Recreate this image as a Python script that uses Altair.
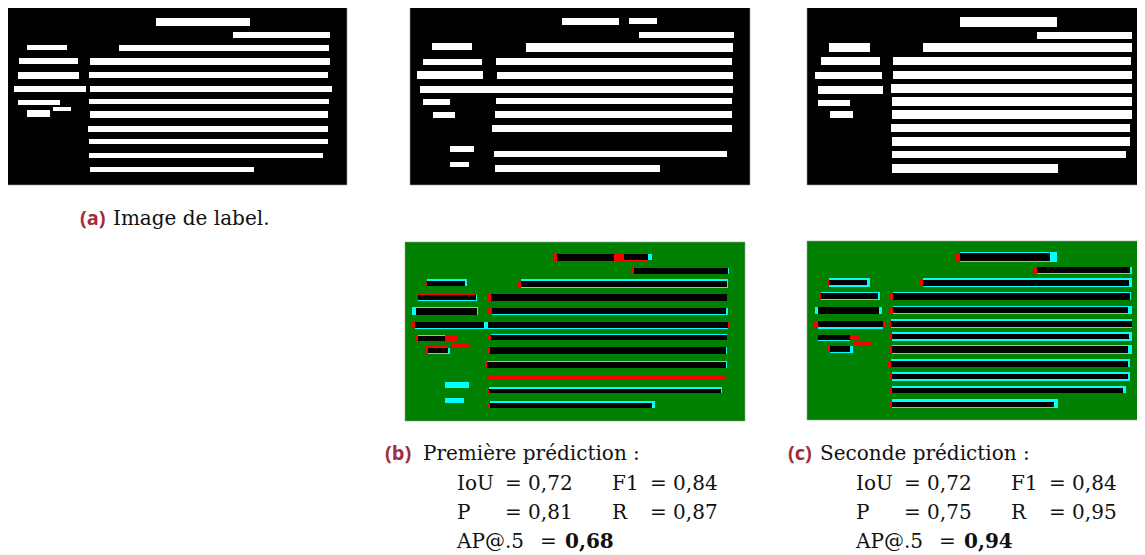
import altair as alt
import pandas as pd

# ---------------- data: bars in image coordinates (x1, x2, y1, y2), image ~340 x 179 ----------------
LABEL_BARS = [
    (149, 243, 12, 20), (226, 323, 26, 32),
    (20, 60, 39, 44), (112, 322, 39, 45),
    (12, 71, 52, 58), (83, 323, 52, 59),
    (11, 72, 66, 73), (82, 321, 66, 72),
    (7, 79, 80, 86), (83, 325, 80, 86),
    (11, 53, 94, 99), (46, 64, 101, 105), (82, 322, 93, 98),
    (20, 43, 104, 111), (83, 321, 105, 112),
    (81, 321, 120, 126),
    (82, 321, 133, 138),
    (82, 316, 147, 152),
    (83, 247, 161, 166),
]
PRED1_BARS = [
    (152, 209, 12, 19), (219, 247, 12, 18),
    (229, 324, 26, 32),
    (22, 62, 37, 44), (116, 323, 37, 46),
    (13, 72, 53, 59), (86, 322, 52, 59),
    (7, 73, 65, 73), (87, 323, 66, 73),
    (10, 323, 80, 87),
    (13, 40, 93, 99), (86, 322, 92, 98),
    (23, 45, 106, 112), (85, 322, 105, 112),
    (82, 322, 119, 126),
    (40, 64, 140, 146),
    (84, 317, 145, 151),
    (40, 59, 156, 161), (85, 250, 159, 166),
]
PRED2_BARS = [
    (153, 250, 11, 21),
    (230, 325, 26, 33),
    (22, 63, 37, 46), (116, 325, 37, 46),
    (14, 73, 51, 59), (86, 324, 51, 59),
    (8, 75, 66, 73), (86, 325, 65, 73),
    (11, 76, 80, 88), (84, 325, 78, 87),
    (11, 43, 94, 100), (85, 325, 91, 100),
    (23, 46, 105, 112), (85, 325, 104, 113),
    (84, 323, 118, 126),
    (85, 323, 131, 140),
    (85, 319, 145, 152),
    (85, 251, 158, 167),
]

CAPTION_TAGS = ["(a)", "(b)", "(c)"]
CAPTION_TITLES = ["Image de label.", "Première prédiction :", "Seconde prédiction :"]
IOU = [0.72, 0.72]
F1 = [0.84, 0.84]
PREC = [0.81, 0.75]
REC = [0.87, 0.95]
AP50 = [0.68, 0.94]

# ---------------- layout ----------------
IMG_W, IMG_H = 340, 179
PANELS = {
    "label": (7, 6),
    "pred1": (410, 6),
    "pred2": (807, 6),
    "cmp1": (405, 242),
    "cmp2": (807, 241),
}
BLACK, WHITE, GREEN, RED, CYAN = "#000000", "#ffffff", "#008000", "#ff0000", "#00ffff"
TAG_COLOR = "#a32c3c"
SERIF = "DejaVu Serif"
FS = 20

X = alt.Scale(domain=[8, 1137], nice=False, zero=False)
Y = alt.Scale(domain=[8, 555], nice=False, zero=False, reverse=True)


def place(bars, panel, color):
    ox, oy = PANELS[panel]
    return [dict(x=ox + a, x2=ox + b, y=oy + c, y2=oy + d, color=color) for a, b, c, d in bars]


def intersect(la, lb):
    out = []
    for a in la:
        for b in lb:
            x1, x2 = max(a[0], b[0]), min(a[1], b[1])
            y1, y2 = max(a[2], b[2]), min(a[3], b[3])
            if x2 > x1 and y2 > y1:
                out.append((x1, x2, y1, y2))
    return out


full = [(0, IMG_W, 0, IMG_H)]
backgrounds = (place(full, "label", BLACK) + place(full, "pred1", BLACK) + place(full, "pred2", BLACK)
               + place(full, "cmp1", GREEN) + place(full, "cmp2", GREEN))
whites = place(LABEL_BARS, "label", WHITE) + place(PRED1_BARS, "pred1", WHITE) + place(PRED2_BARS, "pred2", WHITE)
reds = place(LABEL_BARS, "cmp1", RED) + place(LABEL_BARS, "cmp2", RED)
cyans = place(PRED1_BARS, "cmp1", CYAN) + place(PRED2_BARS, "cmp2", CYAN)
blacks = place(intersect(LABEL_BARS, PRED1_BARS), "cmp1", BLACK) + place(intersect(LABEL_BARS, PRED2_BARS), "cmp2", BLACK)


def rect_layer(rows, **mk):
    return alt.Chart(pd.DataFrame(rows)).mark_rect(**mk).encode(
        x=alt.X("x:Q", scale=X, axis=None),
        x2="x2:Q",
        y=alt.Y("y:Q", scale=Y, axis=None),
        y2="y2:Q",
        color=alt.Color("color:N", scale=None),
    )


def fmt(v):
    return f"{v:.2f}".replace(".", ",")


# text rows
tag_rows = [
    dict(x=80, y=225, t=CAPTION_TAGS[0]),
    dict(x=385, y=460, t=CAPTION_TAGS[1]),
    dict(x=788, y=460, t=CAPTION_TAGS[2]),
]
normal_rows = [
    dict(x=113, y=225, t=CAPTION_TITLES[0]),
    dict(x=423, y=460, t=CAPTION_TITLES[1]),
    dict(x=820, y=460, t=CAPTION_TITLES[2]),
]
bold_rows = []
for i, dx in enumerate([0, 399]):
    normal_rows += [
        dict(x=457 + dx, y=490, t="IoU"),
        dict(x=505 + dx, y=490, t="= " + fmt(IOU[i])),
        dict(x=612 + dx, y=490, t="F1"),
        dict(x=650 + dx, y=490, t="= " + fmt(F1[i])),
        dict(x=457 + dx, y=519, t="P"),
        dict(x=505 + dx, y=519, t="= " + fmt(PREC[i])),
        dict(x=612 + dx, y=519, t="R"),
        dict(x=650 + dx, y=519, t="= " + fmt(REC[i])),
        dict(x=457 + dx, y=548, t="AP@.5"),
        dict(x=540 + dx, y=548, t="="),
    ]
    bold_rows.append(dict(x=565 + dx, y=548, t=fmt(AP50[i])))


def text_layer(rows, **mk):
    return alt.Chart(pd.DataFrame(rows)).mark_text(align="left", baseline="alphabetic", **mk).encode(
        x=alt.X("x:Q", scale=X, axis=None),
        y=alt.Y("y:Q", scale=Y, axis=None),
        text="t:N",
    )


chart = alt.layer(
    rect_layer(backgrounds, stroke="#9a9a9a", strokeWidth=0.6),
    rect_layer(whites),
    rect_layer(reds),
    rect_layer(cyans),
    rect_layer(blacks),
    text_layer(normal_rows, font=SERIF, fontSize=FS, color="#111111"),
    text_layer(bold_rows, font=SERIF, fontSize=FS, fontWeight="bold", color="#111111"),
    text_layer(tag_rows, font="Open Sans", fontSize=FS, fontWeight="bold", color=TAG_COLOR),
).properties(
    width=1129, height=547, padding=0, autosize="none", background="white"
).configure_view(strokeWidth=0)

chart.save("out.html", embed_options={"renderer": "svg", "actions": False})
